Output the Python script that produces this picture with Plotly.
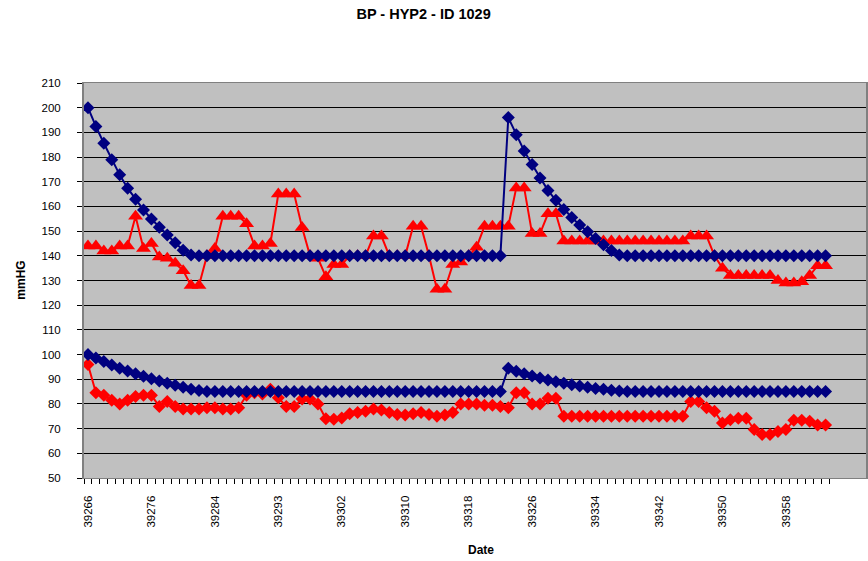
import plotly.graph_objects as go

# Category axis: Excel serial dates (one category per measurement day)
dates = [39266, 39267, 39268, 39270, 39271, 39272, 39274, 39275,
         39276, 39277, 39278, 39279, 39280, 39281, 39282, 39283,
         39284, 39285, 39286, 39287, 39289, 39290, 39291, 39292,
         39293, 39294, 39295, 39296, 39298, 39299, 39300, 39301,
         39302, 39303, 39304, 39305, 39306, 39307, 39308, 39309,
         39310, 39311, 39312, 39313, 39314, 39315, 39316, 39317,
         39318, 39319, 39320, 39321, 39322, 39323, 39324, 39325,
         39326, 39327, 39328, 39329, 39330, 39331, 39332, 39333,
         39334, 39335, 39336, 39337, 39338, 39339, 39340, 39341,
         39342, 39343, 39344, 39345, 39346, 39347, 39348, 39349,
         39350, 39351, 39352, 39353, 39354, 39355, 39356, 39357,
         39358, 39359, 39360, 39361, 39362, 39363]

tick_labels = [39266, 39276, 39284, 39293, 39302, 39310, 39318, 39326,
               39334, 39342, 39350, 39358]

# Systolic target (blue diamonds, upper)
sys_target = [200, 192.4, 185.6, 178.9, 172.8, 167.4, 162.9, 158.6,
              154.9, 151.6, 148.4, 145.3, 142.3, 140.3, 140, 140,
              140, 140, 140, 140, 140, 140, 140, 140,
              140, 140, 140, 140, 140, 140, 140, 140,
              140, 140, 140, 140, 140, 140, 140, 140,
              140, 140, 140, 140, 140, 140, 140, 140,
              140, 140, 140, 140, 140, 196, 189, 182.5,
              177, 171.5, 166.5, 162.5, 158.8, 155.5, 152.5, 149.7,
              147, 144.5, 142.2, 140.3, 140, 140, 140, 140,
              140, 140, 140, 140, 140, 140, 140, 140,
              140, 140, 140, 140, 140, 140, 140, 140,
              140, 140, 140, 140, 140, 140]

# Diastolic target (blue diamonds, lower)
dia_target = [100, 98.6, 97.2, 95.8, 94.5, 93.3, 92.2, 91.2,
              90.2, 89.3, 88.4, 87.6, 86.8, 86, 85.4, 85,
              85, 85, 85, 85, 85, 85, 85, 85,
              85, 85, 85, 85, 85, 85, 85, 85,
              85, 85, 85, 85, 85, 85, 85, 85,
              85, 85, 85, 85, 85, 85, 85, 85,
              85, 85, 85, 85, 85, 94.5, 93.2, 92.2,
              91.3, 90.5, 89.7, 89, 88.4, 87.8, 87.3, 86.8,
              86.3, 85.9, 85.5, 85.2, 85, 85, 85, 85,
              85, 85, 85, 85, 85, 85, 85, 85,
              85, 85, 85, 85, 85, 85, 85, 85,
              85, 85, 85, 85, 85, 85]

# Systolic measured (red triangles)
sys_actual = [144, 144, 142, 142, 144, 144, 156, 143,
              145, 139.5, 139, 137, 134, 128, 128, 140,
              143, 156, 156, 156, 153, 144, 144, 145,
              165, 165, 165, 151.5, 140, 139, 131.5, 136.5,
              136.5, 140, 140, 140, 148, 148, 140, 140,
              140, 152, 152, 140, 126.5, 126.5, 136.5, 137.5,
              140, 143.5, 152, 152, 152, 152, 167.5, 167.5,
              149, 149, 157, 157, 146, 146, 146, 146,
              146, 146, 146, 146, 146, 146, 146, 146,
              146, 146, 146, 146, 148, 148, 148, 140,
              135, 132, 132, 132, 132, 132, 132, 130,
              129, 129, 129.5, 132, 136, 136]

# Diastolic measured (red diamonds)
dia_actual = [96, 84.5, 83.5, 81.5, 80, 81.5, 83, 83.5,
              83.5, 79, 81, 79, 78, 78, 78, 78.5,
              78.5, 78, 78, 78.5, 83.5, 84.5, 84, 86,
              82.5, 79, 79, 82, 82, 80, 74, 73.8,
              74.3, 76, 76.5, 77, 78, 77.5, 76.5, 75.7,
              75.5, 76, 76.5, 75.7, 75, 75.5, 76.5, 80,
              80, 80, 79.5, 79.5, 79, 78.5, 84.5, 84.5,
              80, 80, 82.3, 82.3, 75, 75, 75, 75,
              75, 75, 75, 75, 75, 75, 75, 75,
              75, 75, 75, 75, 81, 81, 78.5, 77,
              72.3, 73.6, 74.2, 74.2, 69.6, 67.6, 67.6, 68.8,
              69.6, 73.4, 73.4, 73, 71.5, 71.5]

cats = [str(d) for d in dates]
label_set = set(tick_labels)
tick_text = [str(d) if d in label_set else "" for d in dates]

RED = "#FF0000"
NAVY = "#000080"
FONT = "Arial, Liberation Sans, sans-serif"

fig = go.Figure()
fig.add_trace(go.Scatter(x=cats, y=sys_actual, mode="lines+markers",
                         line=dict(color=RED, width=2),
                         marker=dict(symbol="triangle-up", size=13, color=RED),
                         name="Systolic"))
fig.add_trace(go.Scatter(x=cats, y=dia_actual, mode="lines+markers",
                         line=dict(color=RED, width=2),
                         marker=dict(symbol="diamond", size=10, color=RED),
                         name="Diastolic"))
fig.add_trace(go.Scatter(x=cats, y=sys_target, mode="lines+markers",
                         line=dict(color=NAVY, width=2),
                         marker=dict(symbol="diamond", size=10, color=NAVY),
                         name="Systolic target"))
fig.add_trace(go.Scatter(x=cats, y=dia_target, mode="lines+markers",
                         line=dict(color=NAVY, width=2),
                         marker=dict(symbol="diamond", size=10, color=NAVY),
                         name="Diastolic target"))

fig.update_layout(
    width=868, height=561,
    margin=dict(l=84, r=0, t=83, b=83),
    paper_bgcolor="white", plot_bgcolor="#C0C0C0",
    showlegend=False,
    font=dict(family=FONT, color="black", size=11.5),
    title=dict(text="BP - HYP2 - ID 1029", xref="container", x=0.488,
               xanchor="center", yref="container", y=0.975, yanchor="middle",
               font=dict(family=FONT, size=14.5, weight="bold", color="black")),
    xaxis=dict(type="category", categoryorder="array", categoryarray=cats,
               tickmode="array", tickvals=cats, ticktext=tick_text,
               tickson="boundaries", ticks="outside", ticklen=5,
               tickcolor="black", tickangle=-90, showgrid=False,
               showline=True, linecolor="#808080", linewidth=1, mirror=True,
               range=[-0.5, 98.1], ticklabelstandoff=12,
               tickfont=dict(family=FONT, size=11.5, color="black")),
    yaxis=dict(range=[50, 210], tick0=50, dtick=10, showgrid=True,
               gridcolor="black", gridwidth=1, ticks="outside", ticklen=5,
               tickcolor="black", showline=True, linecolor="#808080",
               linewidth=2, mirror=True, zeroline=False, ticklabelstandoff=14,
               tickfont=dict(family=FONT, size=11.5, color="black")),
    annotations=[
        dict(text="mmHG", xref="paper", yref="paper", x=(20 - 84) / 784, y=0.5,
             textangle=-90, showarrow=False, xanchor="center", yanchor="middle",
             font=dict(family=FONT, size=12, weight="bold", color="black")),
        dict(text="Date", xref="paper", yref="paper", x=(482 - 84) / 784,
             y=(478 - 550) / 395, showarrow=False, xanchor="center",
             yanchor="middle",
             font=dict(family=FONT, size=12, weight="bold", color="black")),
    ],
)

fig.write_html(
    "out.html",
    config={"displayModeBar": False},
    post_script="document.body.style.margin='0';document.body.style.overflow='hidden';",
)
